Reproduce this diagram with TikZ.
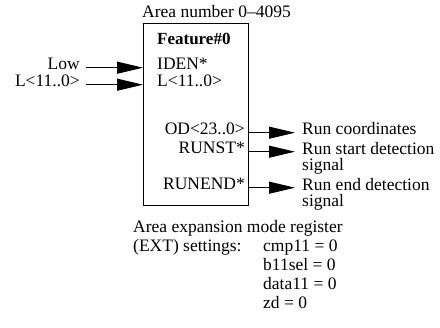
\documentclass[tikz,border=0pt]{standalone}
\usepackage{fontspec}
\setmainfont{Liberation Serif}
\usetikzlibrary{arrows.meta,positioning}
\tikzset{
  lbl/.style={inner sep=0pt, font=\fontsize{17.5}{16.5}\selectfont},
  sig/.style={-{Triangle[length=26pt,width=12pt]}, line width=1pt},
}
\begin{document}
\begin{tikzpicture}[x=1pt,y=-1pt]
\useasboundingbox (0,0) rectangle (440,328);

% feature block
\node[draw, line width=1pt, anchor=north west, inner sep=0pt,
  minimum width=105pt, minimum height=182pt] (feat) at (143,23) {};
\node[lbl, anchor=base west] (area) at (142,18) {Area number 0--4095};
\node[lbl, anchor=base west, font=\fontsize{17}{16.5}\selectfont\bfseries] (fname) at (157,45) {Feature\#0};
\node[lbl, anchor=base west] (iden) at (157,70) {IDEN*};
\node[lbl, anchor=base west] (lin) at (157,87) {L<11..0>};
\node[lbl, anchor=base east] (od) at (245,135) {OD<23..0>};
\node[lbl, anchor=base east] (runst) at (245,154) {RUNST*};
\node[lbl, anchor=base east] (runend) at (245,190) {RUNEND*};

% inputs
\node[lbl, anchor=base east, inner xsep=6pt] (low) at (86,70) {Low};
\node[lbl, anchor=base east, inner xsep=6pt] (lsrc) at (86,87) {L<11..0>};
\draw[sig] (low.mid east) -- (low.mid east -| feat.west);
\draw[sig] (lsrc.mid east) -- (lsrc.mid east -| feat.west);

% outputs (multi-line nodes sit on their last line)
\node[lbl, anchor=base west, inner xsep=7pt] (coord) at (295,135) {Run coordinates};
\node[lbl, anchor=base west, inner xsep=7pt, align=left] (stsig) at (295,171) {Run start detection\\signal};
\node[lbl, anchor=base west, inner xsep=7pt, align=left] (endsig) at (295,207) {Run end detection\\signal};
\draw[sig] (od.mid east -| feat.east) -- (od.mid east -| coord.west);
\draw[sig] (runst.mid east -| feat.east) -- (runst.mid east -| stsig.west);
\draw[sig] (runend.mid east -| feat.east) -- (runend.mid east -| endsig.west);

% register settings
\node[lbl, anchor=base west] (ext) at (133,233) {Area expansion mode register};
\node[lbl, anchor=base west] (extset) at (133,252) {(EXT) settings:};
\node[lbl, anchor=base west, align=left, font=\fontsize{17.5}{19}\selectfont] (vals) at (263,309) {cmp11 = 0\\b11sel = 0\\data11 = 0\\zd = 0};
\end{tikzpicture}
\end{document}
